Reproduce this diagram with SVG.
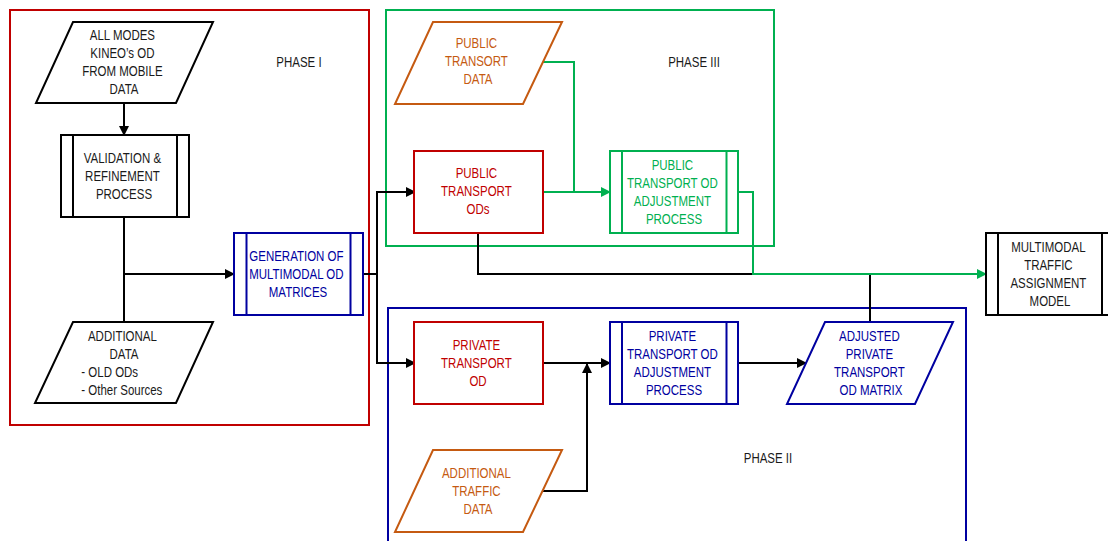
<svg xmlns="http://www.w3.org/2000/svg" width="1108" height="541" viewBox="0 0 1108 541">
  <style>
    text { font-family: "Liberation Sans Narrow", "Arial Narrow", "Liberation Sans", sans-serif; font-size: 14px; text-anchor: middle; fill: #1a1a1a; }
    .box { fill: #ffffff; stroke-width: 2; }
    .k { stroke: #000000; }
    .r { stroke: #C00000; }
    .g { stroke: #00B050; }
    .b { stroke: #0000A0; }
    .o { stroke: #C55A11; }
    .tr { fill: #C00000; }
    .tg { fill: #00B050; }
    .tb { fill: #0000A0; }
    .to { fill: #C55A11; }
    .phase { fill: none; stroke-width: 2; }
    .wire { fill: none; stroke-width: 2; }
    .left { text-anchor: start; }
  </style>
  <defs>
    <marker id="ah" viewBox="0 0 10 10" refX="9" refY="5" markerWidth="10" markerHeight="10" markerUnits="userSpaceOnUse" orient="auto">
      <path d="M0,0 L10,5 L0,10 z" fill="#000000"/>
    </marker>
    <marker id="ahg" viewBox="0 0 10 10" refX="9" refY="5" markerWidth="10" markerHeight="10" markerUnits="userSpaceOnUse" orient="auto">
      <path d="M0,0 L10,5 L0,10 z" fill="#00B050"/>
    </marker>
  </defs>
  <rect width="1108" height="541" fill="#ffffff"/>

  <!-- phase frames; labels are condensed horizontally about their centre -->
  <g id="phase-1">
    <rect class="phase r" x="10" y="10" width="359" height="415"/>
    <text x="299" y="67" transform="matrix(0.82 0 0 1 53.82 0)">PHASE I</text>
  </g>
  <g id="phase-3">
    <rect class="phase g" x="386" y="10" width="388" height="236"/>
    <text x="694" y="67" transform="matrix(0.82 0 0 1 124.92 0)">PHASE III</text>
  </g>
  <g id="phase-2">
    <rect class="phase b" x="388" y="308" width="578" height="250"/>
    <text x="768" y="463" transform="matrix(0.82 0 0 1 138.24 0)">PHASE II</text>
  </g>

  <!-- connectors -->
  <g id="connectors">
    <path class="wire k" d="M124,103 V135" marker-end="url(#ah)"/>
    <path class="wire k" d="M124,217 V322"/>
    <path class="wire k" d="M124,274 H234" marker-end="url(#ah)"/>
    <path class="wire k" d="M363,274 H377 V192 H415" marker-end="url(#ah)"/>
    <path class="wire k" d="M377,274 V363 H415" marker-end="url(#ah)"/>
    <path class="wire g" d="M542,62 H574 V192"/>
    <path class="wire g" d="M543,192 H610" marker-end="url(#ahg)"/>
    <path class="wire k" d="M478,233 V274 H753"/>
    <path class="wire k" d="M870,322 V274"/>
    <path class="wire g" d="M738,192 H753 V274 H986" marker-end="url(#ahg)"/>
    <path class="wire k" d="M543,363 H610" marker-end="url(#ah)"/>
    <path class="wire k" d="M542,491 H587 V364" marker-end="url(#ah)"/>
    <path class="wire k" d="M738,363 H806" marker-end="url(#ah)"/>
  </g>

  <!-- nodes -->
  <g id="all-modes-data">
    <polygon class="box k" points="73,22 213,22 176,103 36,103"/>
    <text transform="matrix(0.82 0 0 1 22.32 0)">
      <tspan x="124" y="40">ALL MODES</tspan>
      <tspan x="124" y="58">KINEO’s OD</tspan>
      <tspan x="124" y="76">FROM MOBILE</tspan>
      <tspan x="124" y="94">DATA</tspan>
    </text>
  </g>
  <g id="validation-process">
    <rect class="box k" x="61" y="135" width="128" height="82"/>
    <path class="wire k" d="M73,135 V217 M177,135 V217"/>
    <text transform="matrix(0.82 0 0 1 22.32 0)">
      <tspan x="124" y="163">VALIDATION &amp;</tspan>
      <tspan x="124" y="181">REFINEMENT</tspan>
      <tspan x="124" y="199">PROCESS</tspan>
    </text>
  </g>
  <g id="additional-data">
    <polygon class="box k" points="73,322 213,322 176,403 35,403"/>
    <text transform="matrix(0.82 0 0 1 22.32 0)">
      <tspan x="124" y="341">ADDITIONAL</tspan>
      <tspan x="124" y="359">DATA</tspan>
    </text>
    <text class="left" transform="matrix(0.82 0 0 1 22.32 0)">
      <tspan x="72" y="377">- OLD ODs</tspan>
      <tspan x="72" y="395">- Other Sources</tspan>
    </text>
  </g>
  <g id="generation-od">
    <rect class="box b" x="234" y="233" width="129" height="82"/>
    <path class="wire b" d="M246.5,233 V315 M350.5,233 V315"/>
    <text class="tb" transform="matrix(0.82 0 0 1 53.64 0)">
      <tspan x="298" y="261">GENERATION OF</tspan>
      <tspan x="298" y="279">MULTIMODAL OD</tspan>
      <tspan x="298" y="297">MATRICES</tspan>
    </text>
  </g>
  <g id="public-transport-data">
    <polygon class="box o" points="433,22 562,22 523,104 395,104"/>
    <text class="to" transform="matrix(0.82 0 0 1 86.04 0)">
      <tspan x="478" y="48">PUBLIC</tspan>
      <tspan x="478" y="66">TRANSORT</tspan>
      <tspan x="478" y="84">DATA</tspan>
    </text>
  </g>
  <g id="public-transport-ods">
    <rect class="box r" x="414" y="151" width="129" height="82"/>
    <text class="tr" transform="matrix(0.82 0 0 1 86.04 0)">
      <tspan x="478" y="178">PUBLIC</tspan>
      <tspan x="478" y="196">TRANSPORT</tspan>
      <tspan x="478" y="214">ODs</tspan>
    </text>
  </g>
  <g id="public-od-adjustment">
    <rect class="box g" x="610" y="151" width="128" height="82"/>
    <path class="wire g" d="M622,151 V233 M726.5,151 V233"/>
    <text class="tg" transform="matrix(0.82 0 0 1 121.32 0)">
      <tspan x="674" y="170">PUBLIC</tspan>
      <tspan x="674" y="188">TRANSPORT OD</tspan>
      <tspan x="674" y="206">ADJUSTMENT</tspan>
      <tspan x="674" y="224">PROCESS</tspan>
    </text>
  </g>
  <g id="multimodal-assignment">
    <rect class="box k" x="986" y="233" width="128" height="82"/>
    <path class="wire k" d="M998,233 V315 M1102,233 V315"/>
    <text transform="matrix(0.82 0 0 1 189 0)">
      <tspan x="1050" y="252">MULTIMODAL</tspan>
      <tspan x="1050" y="270">TRAFFIC</tspan>
      <tspan x="1050" y="288">ASSIGNMENT</tspan>
      <tspan x="1050" y="306">MODEL</tspan>
    </text>
  </g>
  <g id="private-transport-od">
    <rect class="box r" x="414" y="322" width="129" height="82"/>
    <text class="tr" transform="matrix(0.82 0 0 1 86.04 0)">
      <tspan x="478" y="350">PRIVATE</tspan>
      <tspan x="478" y="368">TRANSPORT</tspan>
      <tspan x="478" y="386">OD</tspan>
    </text>
  </g>
  <g id="private-od-adjustment">
    <rect class="box b" x="610" y="322" width="128" height="82"/>
    <path class="wire b" d="M622,322 V404 M726.5,322 V404"/>
    <text class="tb" transform="matrix(0.82 0 0 1 121.32 0)">
      <tspan x="674" y="341">PRIVATE</tspan>
      <tspan x="674" y="359">TRANSPORT OD</tspan>
      <tspan x="674" y="377">ADJUSTMENT</tspan>
      <tspan x="674" y="395">PROCESS</tspan>
    </text>
  </g>
  <g id="adjusted-private-matrix">
    <polygon class="box b" points="825,322 953,322 915,404 787,404"/>
    <text class="tb" transform="matrix(0.82 0 0 1 156.78 0)">
      <tspan x="871" y="341">ADJUSTED</tspan>
      <tspan x="871" y="359">PRIVATE</tspan>
      <tspan x="871" y="377">TRANSPORT</tspan>
      <tspan x="871" y="395">OD MATRIX</tspan>
    </text>
  </g>
  <g id="additional-traffic-data">
    <polygon class="box o" points="433,450 562,450 523,532 395,532"/>
    <text class="to" transform="matrix(0.82 0 0 1 86.04 0)">
      <tspan x="478" y="478">ADDITIONAL</tspan>
      <tspan x="478" y="496">TRAFFIC</tspan>
      <tspan x="478" y="514">DATA</tspan>
    </text>
  </g>
</svg>
